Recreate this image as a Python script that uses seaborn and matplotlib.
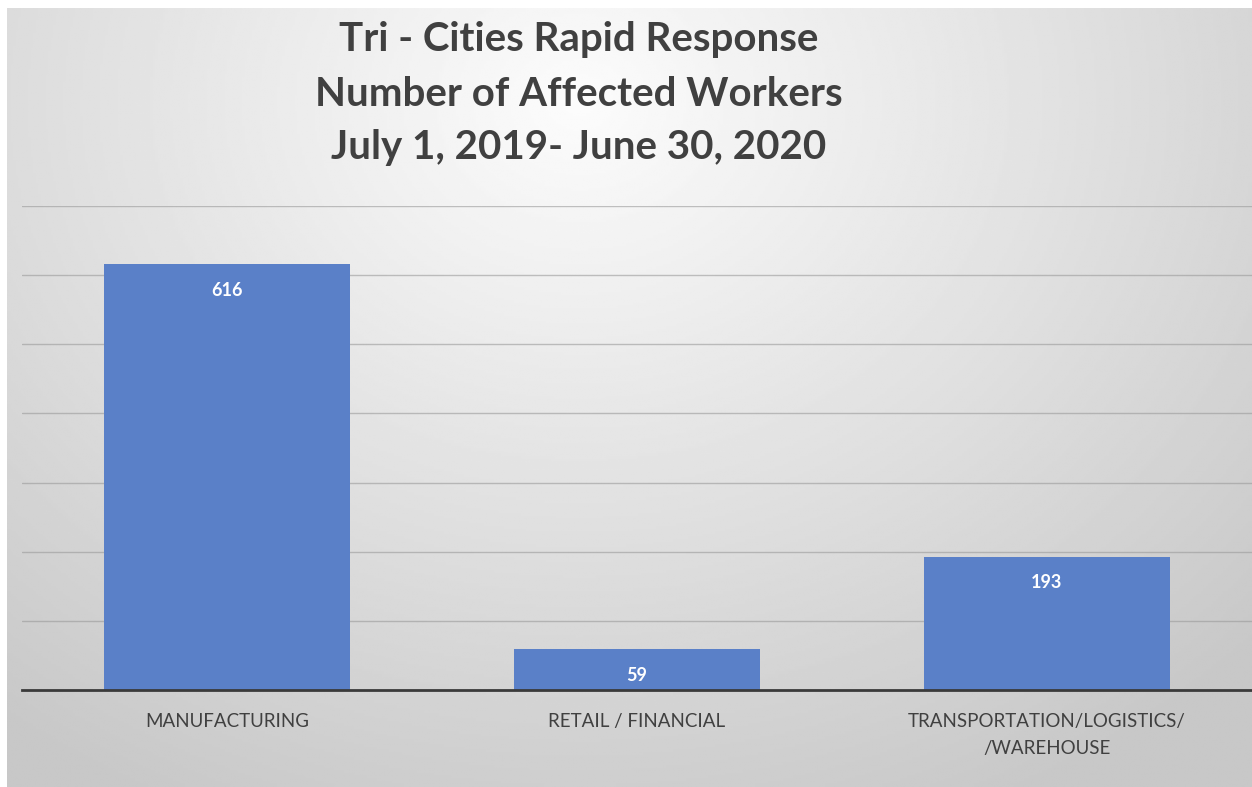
import numpy as np
import pandas as pd
import matplotlib
matplotlib.use("Agg")
import matplotlib.pyplot as plt
import seaborn as sns

# data
categories = ["MANUFACTURING", "RETAIL / FINANCIAL", "TRANSPORTATION/LOGISTICS/\n/WAREHOUSE"]
workers = [616, 59, 193]
title_lines = ["Tri - Cities Rapid Response", "Number of Affected Workers", "July 1, 2019- June 30, 2020"]

df = pd.DataFrame({"sector": categories, "workers": workers})

sns.set_style("white")
plt.rcParams["font.family"] = ["Lato", "DejaVu Sans"]

W, H = 1252, 787
fig = plt.figure(figsize=(W / 100, H / 100), dpi=100)
fig.patch.set_facecolor("white")

# gradient backdrop of the chart area
bg = fig.add_axes([7 / W, 0, 1 - 7 / W, 1 - 8 / H])
yy, xx = np.mgrid[0:1:300j, 0:1:500j]
r = np.sqrt(((xx - 0.46) / 0.75) ** 2 + ((yy - 0.12) / 1.0) ** 2)
shade = np.clip(252 - 52 * r, 200, 252) / 255
bg.imshow(shade, cmap="gray", vmin=0, vmax=1, aspect="auto", extent=(0, 1, 1, 0))
bg.set_axis_off()

ax = fig.add_axes([22 / W, 1 - 690 / H, (1252 - 22) / W, (690 - 206) / H])
ax.set_facecolor("none")
sns.barplot(data=df, x="sector", y="workers", color="#5a80c8", width=0.6, saturation=1,
            linewidth=0, edgecolor="none", ax=ax, zorder=2)
ax.set_xlim(-0.5, 2.5)
ax.set_ylim(0, 700)
ax.set_yticks(range(100, 701, 100))
ax.yaxis.grid(True, color="#9a9a9a", linewidth=1, alpha=0.6, zorder=0)
ax.set_axisbelow(True)
ax.tick_params(axis="y", left=False, labelleft=False)
ax.tick_params(axis="x", bottom=False, pad=13, labelsize=13.5, labelcolor="#404040")
for s in ["top", "right", "left"]:
    ax.spines[s].set_visible(False)
ax.spines["bottom"].set_color("#3a3a3a")
ax.spines["bottom"].set_linewidth(2)
ax.set_xlabel("")
ax.set_ylabel("")
for lbl in ax.get_xticklabels():
    lbl.set_linespacing(1.75)
    lbl.set_verticalalignment("top")

for i, v in enumerate(workers):
    ax.annotate(str(v), (i, v), xytext=(0, -19), textcoords="offset points",
                ha="center", va="center", color="white", fontsize=13, fontweight="bold")

for k, line in enumerate(title_lines):
    fig.text(579 / W, 1 - (40 + 54 * k) / H, line, ha="center", va="center",
             fontsize=29, fontweight="bold", color="#404040")

fig.savefig("out.png", dpi=100)
